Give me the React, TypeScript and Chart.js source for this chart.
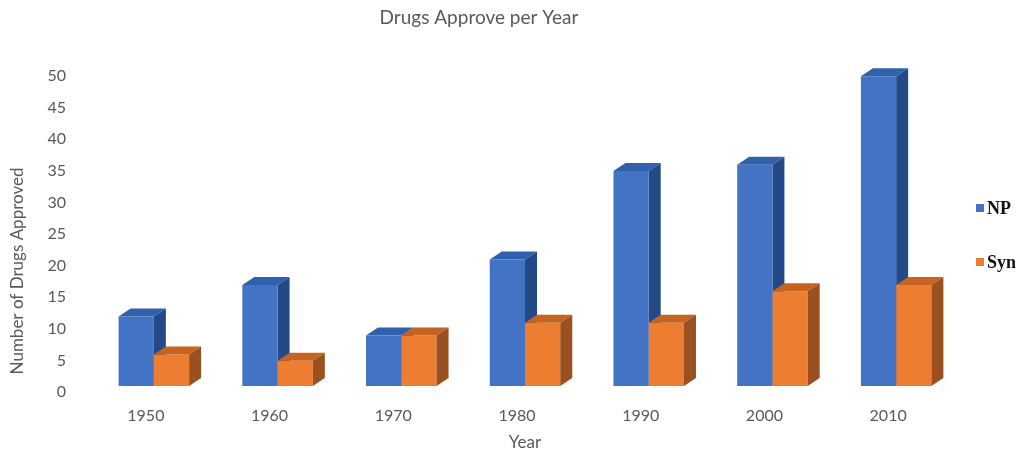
import React, { useEffect, useRef } from 'react';
import { Chart, registerables } from 'chart.js';

Chart.register(...registerables);

const years = ['1950', '1960', '1970', '1980', '1990', '2000', '2010'];
const npValues = [11, 16, 8, 20, 34, 35, 49];
const synValues = [5, 4, 8, 10, 10, 15, 16];
const seriesNames = ['NP', 'Syn'];

const frontColors = ['#4472C4', '#ED7D31'];
const topColors = ['#3061AD', '#C5631F'];
const sideColors = ['#234A86', '#9B501F'];

const TEXT = '#595959';
const DX = 12;
const DY = 8;

function drawFaces(chart: any, dsIndex: number) {
  const meta = chart.getDatasetMeta(dsIndex);
  const ctx = chart.ctx;
  meta.data.forEach((el: any) => {
    const { x, y, base, width } = el.getProps(['x', 'y', 'base', 'width'], true);
    const x0 = x - width / 2;
    const x1 = x + width / 2;
    ctx.save();
    ctx.fillStyle = topColors[dsIndex];
    ctx.beginPath();
    ctx.moveTo(x0, y);
    ctx.lineTo(x1, y);
    ctx.lineTo(x1 + DX, y - DY);
    ctx.lineTo(x0 + DX, y - DY);
    ctx.closePath();
    ctx.fill();
    ctx.fillStyle = sideColors[dsIndex];
    ctx.beginPath();
    ctx.moveTo(x1, y);
    ctx.lineTo(x1 + DX, y - DY);
    ctx.lineTo(x1 + DX, base - DY);
    ctx.lineTo(x1, base);
    ctx.closePath();
    ctx.fill();
    ctx.restore();
  });
}

const threeDPlugin = {
  id: 'threeD',
  beforeDatasetsDraw(chart: any) {
    drawFaces(chart, 0);
  },
  afterDatasetsDraw(chart: any) {
    drawFaces(chart, 1);
  },
};

const extrasPlugin = {
  id: 'extras',
  afterDraw(chart: any) {
    const ctx = chart.ctx;
    const area = chart.chartArea;
    ctx.save();
    // y-axis title
    ctx.translate(18, 271);
    ctx.rotate(-Math.PI / 2);
    ctx.fillStyle = TEXT;
    ctx.font = '17px Lato';
    ctx.textAlign = 'center';
    ctx.textBaseline = 'middle';
    ctx.fillText('Number of Drugs Approved', 0, 0);
    ctx.restore();

    // legend
    ctx.save();
    const lx = area.right + 18;
    seriesNames.forEach((name, i) => {
      const cy = 208 + i * 54;
      ctx.fillStyle = frontColors[i];
      ctx.fillRect(lx, cy - 4, 8, 8);
      ctx.fillStyle = '#111111';
      ctx.font = 'bold 18px "Liberation Serif"';
      ctx.textAlign = 'left';
      ctx.textBaseline = 'middle';
      ctx.fillText(name, lx + 11, cy + 1);
    });
    ctx.restore();
  },
};

export default function App() {
  const ref = useRef<HTMLCanvasElement | null>(null);

  useEffect(() => {
    if (!ref.current) return;
    const chart = new Chart(ref.current, {
      type: 'bar',
      data: {
        labels: years,
        datasets: [
          {
            label: seriesNames[0],
            data: npValues,
            backgroundColor: frontColors[0],
            borderWidth: 0,
            categoryPercentage: 0.57,
            barPercentage: 1,
          },
          {
            label: seriesNames[1],
            data: synValues,
            backgroundColor: frontColors[1],
            borderWidth: 0,
            categoryPercentage: 0.57,
            barPercentage: 1,
          },
        ],
      },
      options: {
        animation: false,
        responsive: true,
        maintainAspectRatio: false,
        layout: { padding: { left: 0, right: 61, top: 0, bottom: 0 } },
        plugins: {
          legend: { display: false },
          tooltip: { enabled: false },
          title: {
            display: true,
            text: 'Drugs Approve per Year',
            color: TEXT,
            font: { family: 'Lato', size: 19, weight: 'normal' },
            padding: { top: 6.6, bottom: 40.6 },
          },
        },
        scales: {
          x: {
            grid: { display: false, drawTicks: false },
            border: { display: false },
            ticks: {
              color: TEXT,
              font: { family: 'Lato', size: 16 },
              padding: 20,
              labelOffset: -8,
            },
            title: {
              display: true,
              text: 'Year',
              color: TEXT,
              font: { family: 'Lato', size: 17, lineHeight: 1 },
              padding: 0,
            },
            afterFit: (s: any) => {
              s.height = 65;
            },
          },
          y: {
            min: 0,
            max: 50,
            grid: { display: false, drawTicks: false },
            border: { display: false },
            ticks: {
              stepSize: 5,
              color: TEXT,
              font: { family: 'Lato', size: 16 },
              padding: 26,
              labelOffset: 6,
            },
            afterFit: (s: any) => {
              s.width = 92;
            },
          },
        },
      },
      plugins: [threeDPlugin, extrasPlugin],
    });
    return () => chart.destroy();
  }, []);

  return (
    <div style={{ position: 'absolute', left: 0, top: 0, width: 1019, height: 451 }}>
      <canvas ref={ref} />
    </div>
  );
}
